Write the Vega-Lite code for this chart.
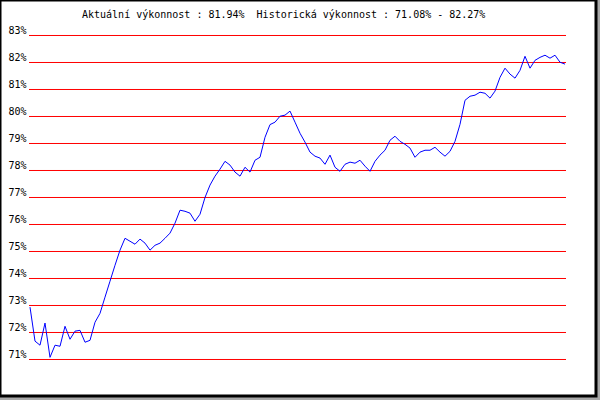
{
  "$schema": "https://vega.github.io/schema/vega-lite/v6.json",
  "width": 596,
  "height": 396,
  "autosize": "none",
  "padding": {"left": 0, "top": 0, "right": 4, "bottom": 4},
  "background": "#a8a8a8",
  "title": {
    "text": "Aktuální výkonnost : 81.94% \u00a0Historická výkonnost : 71.08% - 82.27%",
    "anchor": "start",
    "frame": "group",
    "orient": "top",
    "offset": -17,
    "baseline": "alphabetic",
    "dx": 82,
    "dy": 11,
    "font": "DejaVu Sans Mono",
    "fontSize": 10,
    "fontWeight": "normal",
    "color": "#000000"
  },
  "datasets": {
    "perf": [
      {"i": 0, "v": 72.94}, {"i": 1, "v": 71.68}, {"i": 2, "v": 71.53}, {"i": 3, "v": 72.35},
      {"i": 4, "v": 71.08}, {"i": 5, "v": 71.53}, {"i": 6, "v": 71.49}, {"i": 7, "v": 72.23},
      {"i": 8, "v": 71.75}, {"i": 9, "v": 72.05}, {"i": 10, "v": 72.08}, {"i": 11, "v": 71.64},
      {"i": 12, "v": 71.71}, {"i": 13, "v": 72.38}, {"i": 14, "v": 72.71}, {"i": 15, "v": 73.31},
      {"i": 16, "v": 73.9}, {"i": 17, "v": 74.49}, {"i": 18, "v": 75.05}, {"i": 19, "v": 75.49},
      {"i": 20, "v": 75.38}, {"i": 21, "v": 75.27}, {"i": 22, "v": 75.46}, {"i": 23, "v": 75.31},
      {"i": 24, "v": 75.05}, {"i": 25, "v": 75.23}, {"i": 26, "v": 75.31}, {"i": 27, "v": 75.49},
      {"i": 28, "v": 75.68}, {"i": 29, "v": 76.05}, {"i": 30, "v": 76.53}, {"i": 31, "v": 76.49},
      {"i": 32, "v": 76.42}, {"i": 33, "v": 76.12}, {"i": 34, "v": 76.38}, {"i": 35, "v": 77.0},
      {"i": 36, "v": 77.46}, {"i": 37, "v": 77.79}, {"i": 38, "v": 78.05}, {"i": 39, "v": 78.34},
      {"i": 40, "v": 78.2}, {"i": 41, "v": 77.94}, {"i": 42, "v": 77.79}, {"i": 43, "v": 78.12},
      {"i": 44, "v": 77.94}, {"i": 45, "v": 78.38}, {"i": 46, "v": 78.49}, {"i": 47, "v": 79.23},
      {"i": 48, "v": 79.7}, {"i": 49, "v": 79.79}, {"i": 50, "v": 80.01}, {"i": 51, "v": 80.05},
      {"i": 52, "v": 80.2}, {"i": 53, "v": 79.79}, {"i": 54, "v": 79.38}, {"i": 55, "v": 79.05},
      {"i": 56, "v": 78.68}, {"i": 57, "v": 78.53}, {"i": 58, "v": 78.46}, {"i": 59, "v": 78.23},
      {"i": 60, "v": 78.57}, {"i": 61, "v": 78.12}, {"i": 62, "v": 77.97}, {"i": 63, "v": 78.23},
      {"i": 64, "v": 78.31}, {"i": 65, "v": 78.27}, {"i": 66, "v": 78.38}, {"i": 67, "v": 78.16},
      {"i": 68, "v": 77.97}, {"i": 69, "v": 78.34}, {"i": 70, "v": 78.57}, {"i": 71, "v": 78.75},
      {"i": 72, "v": 79.12}, {"i": 73, "v": 79.27}, {"i": 74, "v": 79.08}, {"i": 75, "v": 78.97},
      {"i": 76, "v": 78.83}, {"i": 77, "v": 78.49}, {"i": 78, "v": 78.68}, {"i": 79, "v": 78.75},
      {"i": 80, "v": 78.75}, {"i": 81, "v": 78.86}, {"i": 82, "v": 78.68}, {"i": 83, "v": 78.53},
      {"i": 84, "v": 78.71}, {"i": 85, "v": 79.08}, {"i": 86, "v": 79.71}, {"i": 87, "v": 80.6},
      {"i": 88, "v": 80.75}, {"i": 89, "v": 80.79}, {"i": 90, "v": 80.9}, {"i": 91, "v": 80.86},
      {"i": 92, "v": 80.68}, {"i": 93, "v": 80.94}, {"i": 94, "v": 81.45}, {"i": 95, "v": 81.79},
      {"i": 96, "v": 81.57}, {"i": 97, "v": 81.42}, {"i": 98, "v": 81.71}, {"i": 99, "v": 82.23},
      {"i": 100, "v": 81.79}, {"i": 101, "v": 82.08}, {"i": 102, "v": 82.19}, {"i": 103, "v": 82.27},
      {"i": 104, "v": 82.16}, {"i": 105, "v": 82.27}, {"i": 106, "v": 82.01}, {"i": 107, "v": 81.94}
    ],
    "levels": [
      {"level": 71}, {"level": 72}, {"level": 73}, {"level": 74}, {"level": 75},
      {"level": 76}, {"level": 77}, {"level": 78}, {"level": 79}, {"level": 80},
      {"level": 81}, {"level": 82}, {"level": 83}
    ]
  },
  "layer": [
    {
      "data": {"name": "levels"},
      "mark": {"type": "rule", "color": "#ff0000", "strokeWidth": 1},
      "encoding": {
        "x": {"datum": -0.2, "type": "quantitative", "scale": {"domain": [-6, 113.2], "nice": false, "zero": false}, "axis": null},
        "x2": {"datum": 107.2},
        "y": {
          "field": "level", "type": "quantitative",
          "scale": {"domain": [69.6481, 84.3148], "nice": false, "zero": false},
          "axis": {"values": [71, 72, 73, 74, 75, 76, 77, 78, 79, 80, 81, 82, 83], "labelExpr": "datum.value + '%'", "offset": -28, "title": null}
        }
      }
    },
    {
      "data": {"name": "perf"},
      "mark": {"type": "line", "color": "#0000ff", "strokeWidth": 1, "interpolate": "linear"},
      "encoding": {
        "x": {"field": "i", "type": "quantitative", "scale": {"domain": [-6, 113.2], "nice": false, "zero": false}, "axis": null},
        "y": {
          "field": "v", "type": "quantitative",
          "scale": {"domain": [69.6481, 84.3148], "nice": false, "zero": false},
          "axis": {"values": [71, 72, 73, 74, 75, 76, 77, 78, 79, 80, 81, 82, 83], "labelExpr": "datum.value + '%'", "offset": -28, "title": null}
        }
      }
    }
  ],
  "config": {
    "view": {"fill": "#ffffff", "stroke": "#000000", "strokeWidth": 3},
    "axis": {
      "grid": false, "domain": false, "ticks": false,
      "labelFont": "DejaVu Sans Mono", "labelFontSize": 10, "labelColor": "#000000",
      "labelPadding": 2, "labelBaseline": "alphabetic", "labelOffset": -2
    }
  }
}
